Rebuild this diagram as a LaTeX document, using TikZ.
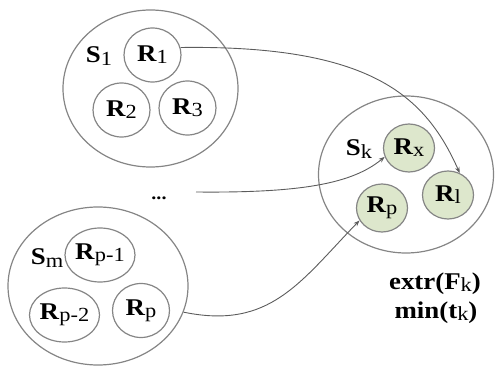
\documentclass[tikz,border=0pt]{standalone}
\usepackage{fontspec}
\setmainfont{Liberation Serif}
\usepackage{graphicx}
\usetikzlibrary{shapes.geometric,arrows.meta}
\definecolor{edgegray}{HTML}{858585}
\definecolor{linegray}{HTML}{5c5c5c}
\definecolor{leaf}{HTML}{DDE7CC}
\newcommand\hstretch[1]{\scalebox{1.12}[1]{#1}}
\newcommand\sbx[1]{\raisebox{-0.2ex}{\fontsize{20}{20}\selectfont\mdseries #1}}
\newcommand\lbl[2]{\hstretch{\textbf{#1}\sbx{#2}}}
\begin{document}
\begin{tikzpicture}[x=1pt,y=-1pt,
  every node/.style={font=\fontsize{24}{26}\selectfont},
  bigell/.style={ellipse,draw=edgegray,line width=1.2pt,minimum width=175pt,minimum height=157pt,inner sep=0pt},
  smallc/.style={ellipse,draw=edgegray,line width=1.2pt,minimum width=57pt,minimum height=54pt,inner sep=0pt},
  leafc/.style={ellipse,draw=edgegray,fill=leaf,line width=1.2pt,minimum width=51pt,minimum height=48pt,inner sep=0pt},
  conn/.style={draw=linegray,line width=0.9pt,-{Stealth[length=6pt,width=4.5pt]}}]
\useasboundingbox (0,0) rectangle (495,366);
% big sets
\node[bigell] (S1) at (150.5,88.5) {};
\node[bigell] (Sk) at (406,174.5) {};
\node[bigell,minimum width=180pt,minimum height=158pt] (Sm) at (98,286) {};
% S1 members
\node (S1l) at (99,56) {\lbl{S}{1}};
\node[smallc] (R1) at (152.5,55) {\lbl{R}{1}};
\node[smallc] (R2) at (121.5,110) {\lbl{R}{2}};
\node[smallc] (R3) at (187.5,108) {\lbl{R}{3}};
% Sm members
\node (Sml) at (47,258) {\lbl{S}{m}};
\node[smallc] (Rpm1) at (100,255) {\lbl{R}{p-1}};
\node[smallc] (Rpm2) at (64.5,315) {\lbl{R}{p-2}};
\node[smallc] (Rp) at (141,310.5) {\lbl{R}{p}};
% Sk members
\node (Skl) at (359,149) {\lbl{S}{k}};
\node[leafc] (Rx) at (409,148) {\lbl{R}{x}};
\node[leafc] (Rl) at (448,195) {\lbl{R}{l}};
\node[leafc] (Rpk) at (382,208) {\lbl{R}{p}};
% dots and texts
\node (dots) at (159,198) {\hstretch{\fontsize{18}{18}\selectfont\textbf{...}}};
\node (ext) at (435,284) {\lbl{extr(F}{k}\hstretch{\textbf{)}}};
\node (mint) at (436,313) {\lbl{min(t}{k}\hstretch{\textbf{)}}};
% connectors
\coordinate (d0) at (196,192);
\draw[conn] (R1.15) .. controls (370,45) and (425,95) .. (Rl.62);
\draw[conn] (d0) .. controls (300,193) and (352,184) .. (Rx.200);
\draw[conn] (Sm.-17) .. controls (270,330) and (300,282) .. (Rpk.209);
\end{tikzpicture}
\end{document}
